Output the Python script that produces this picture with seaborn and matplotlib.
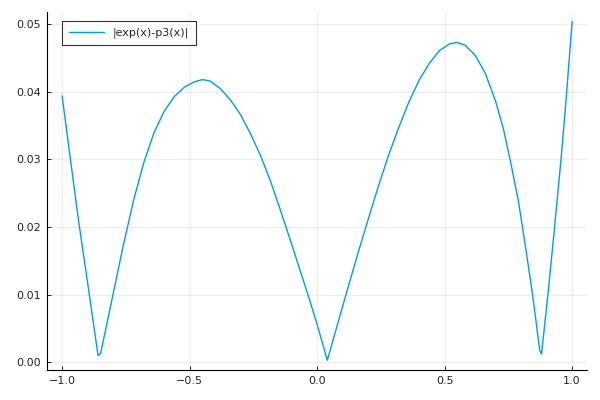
import numpy as np
import pandas as pd
import matplotlib
matplotlib.use("Agg")
import matplotlib.pyplot as plt
import seaborn as sns

# values
x_vals = [-1.0, -0.968, -0.935, -0.894, -0.859, -0.849, -0.80, -0.76, -0.72, -0.68,
          -0.64, -0.60, -0.56, -0.52, -0.48, -0.45, -0.42, -0.38, -0.34, -0.30,
          -0.26, -0.22, -0.18, -0.145, -0.10, -0.067, -0.03, 0.0, 0.040,
          0.08, 0.12, 0.16, 0.20, 0.24, 0.28, 0.32, 0.36, 0.40, 0.44, 0.48,
          0.52, 0.547, 0.58, 0.62, 0.66, 0.70, 0.73, 0.76, 0.79, 0.82, 0.845,
          0.873, 0.880, 0.906, 0.930, 0.956, 0.978, 1.0]
err_vals = [0.0394, 0.0302, 0.0208, 0.0102, 0.0010, 0.0013, 0.0101, 0.0173, 0.0239, 0.0295,
            0.0339, 0.0371, 0.0393, 0.0407, 0.0415, 0.0418, 0.0416, 0.0405, 0.0388, 0.0366,
            0.0337, 0.0304, 0.0265, 0.0226, 0.0175, 0.0136, 0.0093, 0.0056, 0.0003,
            0.0056, 0.0109, 0.0161, 0.0211, 0.0260, 0.0306, 0.0347, 0.0385, 0.0417, 0.0442, 0.0461,
            0.0471, 0.0473, 0.0469, 0.0454, 0.0427, 0.0386, 0.0346, 0.0294, 0.0237, 0.0164, 0.0100,
            0.0018, 0.0012, 0.0103, 0.0195, 0.0298, 0.0396, 0.0504]
series_label = "|exp(x)-p3(x)|"
x_ticks = [-1.0, -0.5, 0.0, 0.5, 1.0]
y_ticks = [0.00, 0.01, 0.02, 0.03, 0.04, 0.05]

df = pd.DataFrame({"x": x_vals, "err": err_vals})

sns.set_style("white")
plt.rcParams["font.family"] = ["DejaVu Sans"]

fig = plt.figure(figsize=(6, 4), dpi=100)
ax = fig.add_axes([0.078, 0.074, 0.901, 0.896])

sns.lineplot(data=df, x="x", y="err", ax=ax, color="#009AFA", linewidth=1,
             label=series_label, sort=False)

ax.set_xlim(-1.06, 1.06)
ax.set_ylim(-0.0012, 0.0518)
ax.set_xticks(x_ticks)
ax.set_yticks(y_ticks)
ax.set_xticklabels([f"{t:.1f}".replace("-", "\u2212") for t in x_ticks])
ax.set_yticklabels([f"{t:.2f}" for t in y_ticks])
ax.set_xlabel("")
ax.set_ylabel("")

ax.grid(True, color="black", alpha=0.1, linewidth=0.5)
ax.tick_params(direction="in", length=3, width=0.6, labelsize=8, color="black",
               pad=4, left=True, bottom=True)
for side in ["top", "right"]:
    ax.spines[side].set_visible(False)
for side in ["left", "bottom"]:
    ax.spines[side].set_color("black")
    ax.spines[side].set_linewidth(0.8)

leg = ax.legend(loc="upper left", bbox_to_anchor=(0.028, 0.975), fontsize=8,
                frameon=True, fancybox=False, handlelength=3.2,
                borderpad=0.6, borderaxespad=0)
leg.get_frame().set_edgecolor("black")
leg.get_frame().set_linewidth(0.8)

fig.savefig("out.png", dpi=100)
